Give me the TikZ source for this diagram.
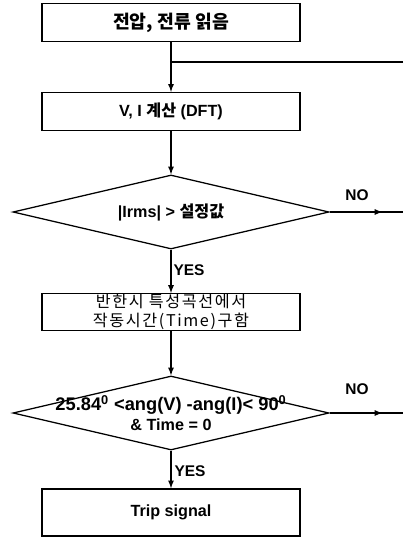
\documentclass[tikz,border=0pt]{standalone}
\usepackage{fontspec}
\setmainfont{Liberation Sans}
\newfontfamily\kr{Noto Sans CJK KR}
\newfontfamily\krwide{Noto Sans CJK KR}[LetterSpace=10]
\usetikzlibrary{shapes.geometric,decorations.markings}

\tikzset{
  block/.style={draw,line width=0.9pt,minimum width=6.45cm,minimum height=0.95cm,
    inner sep=0pt,align=center,font=\fontsize{11.5}{14}\selectfont\bfseries},
  decision/.style={draw,shape=diamond,line width=0.9pt,minimum width=7.9cm,
    minimum height=1.85cm,inner sep=0pt},
  dtext/.style={align=center,font=\fontsize{11.5}{14}\selectfont\bfseries},
  lbl/.style={font=\fontsize{11}{13}\selectfont\bfseries,inner sep=1pt},
  flow/.style={line width=0.9pt,-latex},
  midarrow/.style={line width=0.9pt,postaction={decorate},
    decoration={markings,mark=at position 0.72 with {\arrow{latex}}}}
}

\begin{document}
\begin{tikzpicture}[x=0.025cm,y=-0.025cm]
  \useasboundingbox (0,0) rectangle (403,541);
  % process steps
  \node[block,font=\fontsize{13}{15}\selectfont\bfseries] (read) at (171,22.5) {\kr 전압, 전류 읽음};
  \node[block] (dft) at (171,111.5) {V, I {\kr 계산} (DFT)};
  \node[decision] (chk1) at (171,212) {};
  \node[dtext] (chk1txt) at (chk1.center) {|Irms| > {\kr 설정값}};
  \node[block,minimum height=0.92cm,font=\fontsize{11.5}{14}\selectfont\krwide] (curve) at (171,312)
    {반한시 특성곡선에서\\작동시간(Time)구함};
  \node[decision] (chk2) at (171,413) {};
  \node[dtext] (chk2txt) at (chk2.center)
    {{\fontsize{13}{15}\selectfont 25.84\textsuperscript{0} <ang(V) -ang(I)< 90\textsuperscript{0}}\\\& Time = 0};
  \node[block,minimum height=1.18cm] (trip) at (171,512.5) {Trip signal};
  % loop back line
  \coordinate (join) at (171,62);
  \coordinate (back) at (403,62);
  \coordinate (out1) at (403,212);
  \coordinate (out2) at (403,413);
  % connectors
  \draw[flow] (read) -- (dft);
  \draw[line width=0.9pt] (back) -- (join);
  \draw[flow] (dft) -- (chk1);
  \draw[flow] (chk1) -- (curve);
  \draw[flow] (curve) -- (chk2);
  \draw[flow] (chk2) -- (trip);
  \draw[midarrow] (chk1.east) -- (out1);
  \draw[midarrow] (chk2.east) -- (out2);
  % branch labels
  \node[lbl] (no1) at (357,195) {NO};
  \node[lbl] (no2) at (357,389) {NO};
  \node[lbl] (yes1) at (189,270) {YES};
  \node[lbl] (yes2) at (190,471) {YES};
\end{tikzpicture}
\end{document}
